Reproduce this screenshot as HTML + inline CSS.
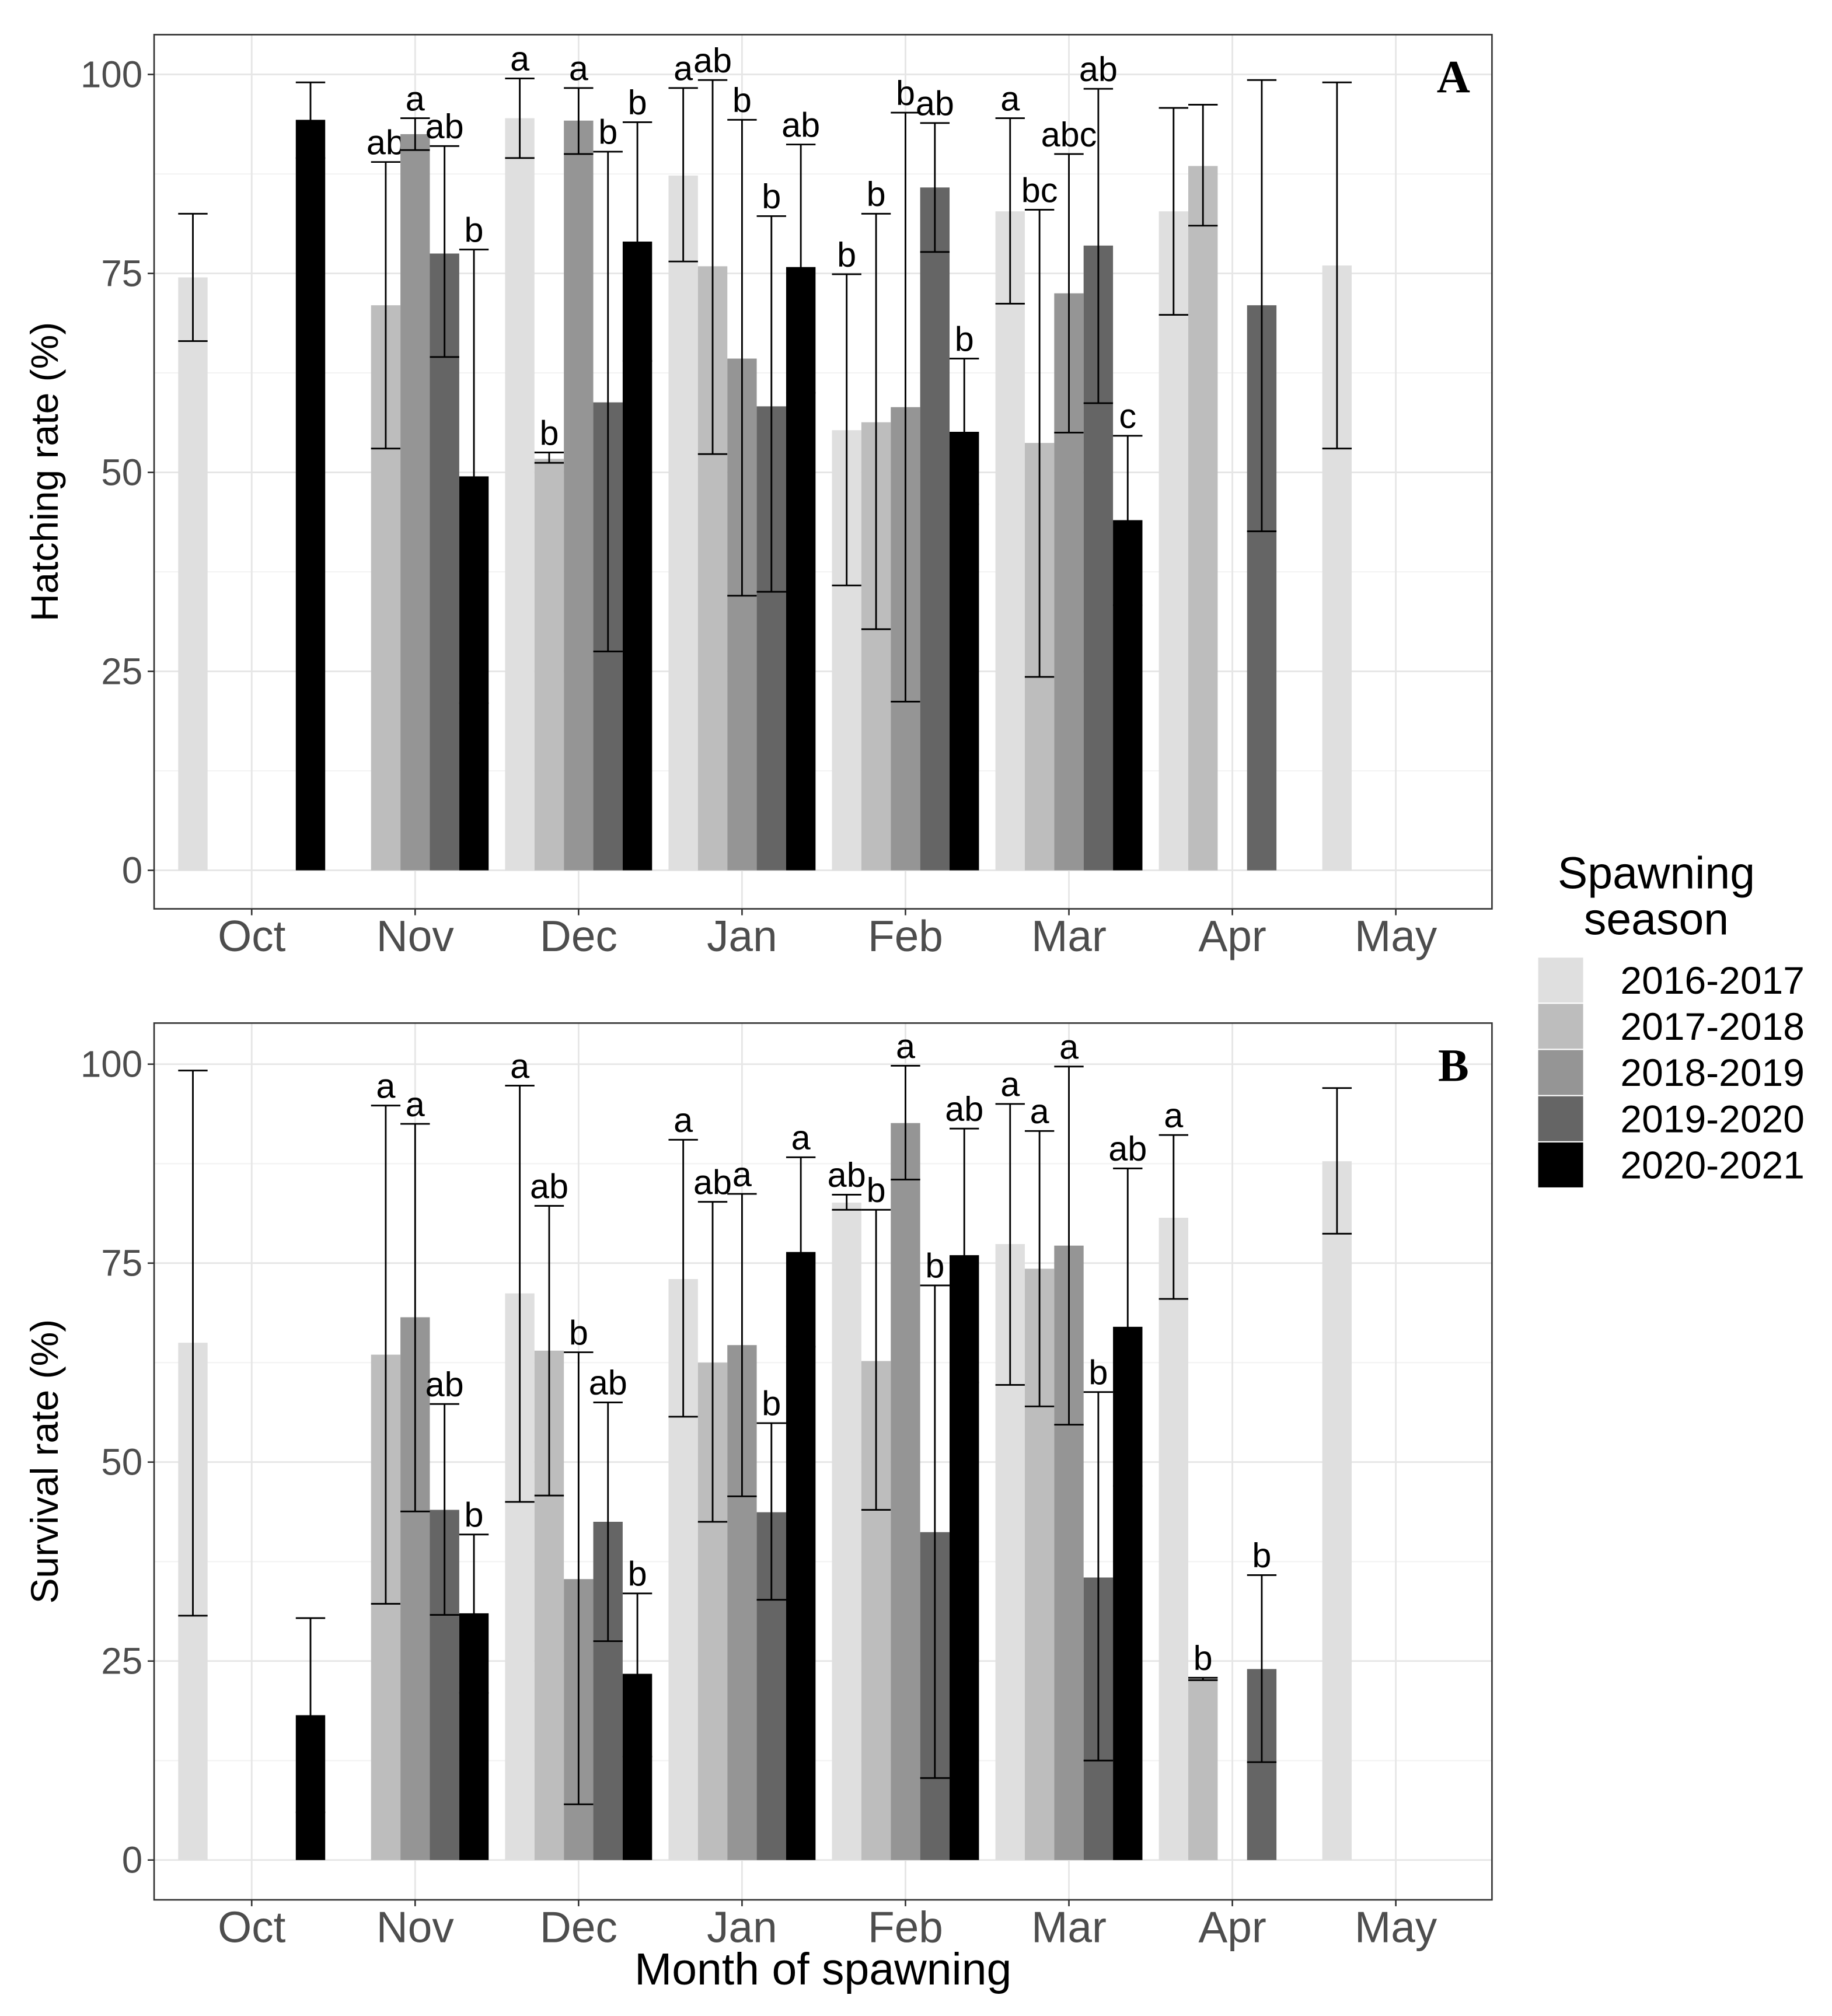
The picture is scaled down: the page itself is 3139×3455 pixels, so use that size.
<!DOCTYPE html>
<html><head><meta charset="utf-8"><style>
html,body{margin:0;padding:0;background:#fff;}
svg{display:block;font-family:"Liberation Sans",sans-serif;}
</style></head><body>
<svg id="chart" width="3139" height="3455" viewBox="0 0 1426.8 1570.5" xmlns="http://www.w3.org/2000/svg">
<rect x="0" y="0" width="1426.8" height="1570.5" fill="#fff"/>
<g id="root"></g>
</svg>
<script>
const months = ["Oct","Nov","Dec","Jan","Feb","Mar","Apr","May"];
const seasons = ["2016-2017","2017-2018","2018-2019","2019-2020","2020-2021"];
const colors = ["#dfdfdf","#bdbdbd","#959595","#656565","#000000"];
const yTicks = [0,25,50,75,100];
// Hatching rate: per month, per season [mean, low, high, label] or null
const hatchA = [
 [[74.5,66.5,82.5,""],null,null,null,[94.3,89.5,99,""]],
 [null,[71,53,89,"ab"],[92.5,90.5,94.5,"a"],[77.5,64.5,91,"ab"],[49.5,21,78,"b"]],
 [[94.5,89.5,99.5,"a"],[51.7,51.2,52.5,"b"],[94.2,90,98.3,"a"],[58.8,27.5,90.3,"b"],[79,64,94,"b"]],
 [[87.3,76.5,98.3,"a"],[75.9,52.3,99.3,"ab"],[64.3,34.5,94.3,"b"],[58.3,35,82.2,"b"],[75.8,60,91.2,"ab"]],
 [[55.3,35.8,74.9,"b"],[56.3,30.3,82.5,"b"],[58.2,21.2,95.2,"b"],[85.8,77.7,93.9,"ab"],[55.1,46,64.3,"b"]],
 [[82.8,71.2,94.5,"a"],[53.7,24.3,83,"bc"],[72.5,55,90,"abc"],[78.5,58.7,98.2,"ab"],[44,33.3,54.6,"c"]],
 [[82.8,69.8,95.8,""],[88.5,81,96.2,""],null,[71,42.6,99.3,""],null],
 [[76,53,99,""],null,null,null,null]
];
const survB = [
 [[65,30.7,99.2,""],null,null,null,[18.2,6,30.4,""]],
 [null,[63.5,32.2,94.8,"a"],[68.2,43.8,92.5,"a"],[44,30.8,57.3,"ab"],[31,21,40.9,"b"]],
 [[71.2,45,97.3,"a"],[64,45.8,82.2,"ab"],[35.3,7,63.8,"b"],[42.5,27.5,57.5,"ab"],[23.4,13,33.5,"b"]],
 [[73,55.7,90.5,"a"],[62.5,42.5,82.7,"ab"],[64.7,45.7,83.7,"a"],[43.7,32.7,54.9,"b"],[76.4,64.5,88.3,"a"]],
 [[82.6,81.7,83.6,"ab"],[62.7,44,81.7,"b"],[92.6,85.5,99.8,"a"],[41.2,10.3,72.2,"b"],[76,60,91.9,"ab"]],
 [[77.4,59.7,95,"a"],[74.3,57,91.6,"a"],[77.2,54.7,99.7,"a"],[35.5,12.5,58.8,"b"],[67,47,86.9,"ab"]],
 [[80.7,70.5,91.1,"a"],[22.8,22.6,22.9,"b"],null,[24,12.3,35.8,"b"],null],
 [[87.8,78.7,97,""],null,null,null,null]
];
const NS="http://www.w3.org/2000/svg";
const root=document.getElementById('root');
function el(tag,attrs,parent){const e=document.createElementNS(NS,tag);for(const k in attrs)e.setAttribute(k,attrs[k]);(parent||root).appendChild(e);return e;}
const x0=196, dx=127.3, bw=22.9;
const xMonth=i=>x0+i*dx;
function panel(data,top,bottom,y0px,y100px,ytitle,tag,pname){
  const g=el('g',{});
  
  
  const L=120,R=1162;
  const y=v=>y0px+(y100px-y0px)*v/100;
  for(let k=0;k<4;k++){const v=12.5+25*k;el('line',{x1:L,x2:R,y1:y(v),y2:y(v),stroke:'#f3f3f3','stroke-width':1},g);}
  yTicks.forEach(v=>{el('line',{x1:L,x2:R,y1:y(v),y2:y(v),stroke:'#e6e6e6','stroke-width':1.3},g);});
  months.forEach((m,i)=>{el('line',{x1:xMonth(i),x2:xMonth(i),y1:top,y2:bottom,stroke:'#e6e6e6','stroke-width':1.3},g);});
  data.forEach((row,i)=>{row.forEach((d,s)=>{
    if(!d)return;
    const cx=xMonth(i)+(s-2)*bw;
    const b=el('rect',{x:cx-bw/2,y:y(d[0]),width:bw,height:y(0)-y(d[0]),fill:colors[s]},g);
    
    
    const eb=el('path',{d:`M${cx-bw/2},${y(d[2])}H${cx+bw/2}M${cx},${y(d[2])}V${y(d[1])}M${cx-bw/2},${y(d[1])}H${cx+bw/2}`,stroke:'#000','stroke-width':1.3,fill:'none'},g);
    
    
    if(d[3]){const t=el('text',{x:cx,y:y(d[2])-6,'text-anchor':'middle','font-size':27,fill:'#000'},g);t.textContent=d[3];
      
      }
  });});
  el('rect',{x:L,y:top,width:R-L,height:bottom-top,fill:'none',stroke:'#333','stroke-width':1.2},g);
  yTicks.forEach(v=>{el('line',{x1:L-5,x2:L,y1:y(v),y2:y(v),stroke:'#333','stroke-width':1.2},g);
    const t=el('text',{x:L-9,y:y(v)+10,'text-anchor':'end','font-size':29,fill:'#4d4d4d'},g);t.textContent=v;
    
    });
  months.forEach((m,i)=>{el('line',{x1:xMonth(i),x2:xMonth(i),y1:bottom,y2:bottom+5,stroke:'#333','stroke-width':1.2},g);
    const t=el('text',{x:xMonth(i),y:bottom+33,'text-anchor':'middle','font-size':34,fill:'#4d4d4d'},g);t.textContent=m;
    
    });
  const yt=el('text',{x:0,y:0,transform:`translate(45,${(top+bottom)/2}) rotate(-90)`,'text-anchor':'middle','font-size':30,fill:'#000'},g);yt.textContent=ytitle;
  
  
  const tg=el('text',{x:1132,y:top+45,'text-anchor':'middle','font-size':36,'font-weight':'bold','font-family':'Liberation Serif, serif',fill:'#000'},g);tg.textContent=tag;
  
  
}
panel(hatchA,27,708,678,58,"Hatching rate (%)","A","panel-a-hatching");
panel(survB,797,1480,1449,829,"Survival rate (%)","B","panel-b-survival");
const xt=el('text',{x:641,y:1546,'text-anchor':'middle','font-size':35,fill:'#000'});xt.textContent="Month of spawning";


const lg=el('g',{});


const lt1=el('text',{x:1290,y:692,'text-anchor':'middle','font-size':35,fill:'#000'},lg);lt1.textContent="Spawning";
const lt2=el('text',{x:1290,y:728,'text-anchor':'middle','font-size':35,fill:'#000'},lg);lt2.textContent="season";
seasons.forEach((s,i)=>{const yy=746+i*36;
  const r=el('rect',{x:1198,y:yy,width:35,height:35,fill:colors[i]},lg);
  
  
  const t=el('text',{x:1262,y:yy+28,'font-size':30,fill:'#000'},lg);t.textContent=s;
  
  
});
</script>
</body></html>
